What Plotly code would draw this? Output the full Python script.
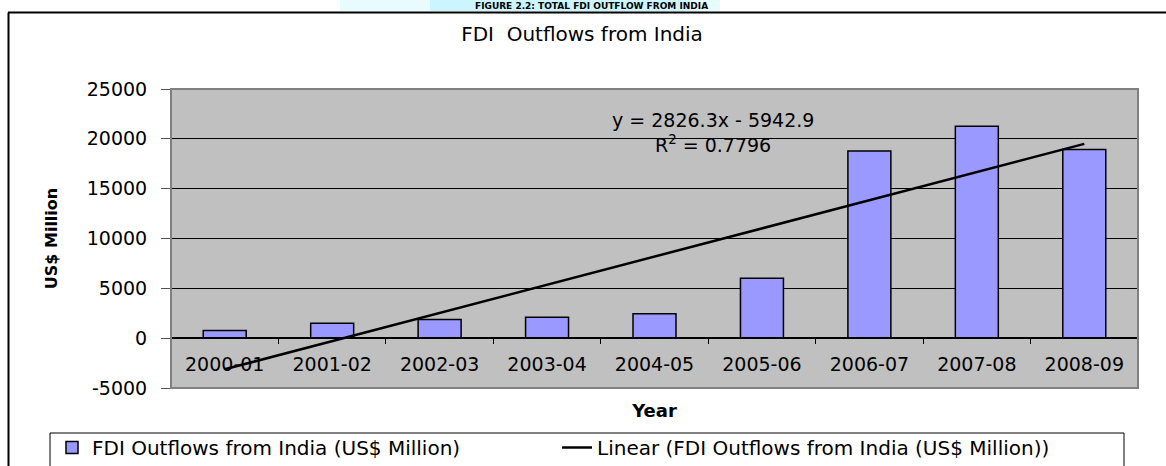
import numpy as np
import plotly.graph_objects as go

# ---- data ----
years = ["2000-01", "2001-02", "2002-03", "2003-04", "2004-05",
         "2005-06", "2006-07", "2007-08", "2008-09"]
fdi_outflows = [780, 1500, 1870, 2100, 2450, 6000, 18770, 21270, 18940]
y_tick_values = [-5000, 0, 5000, 10000, 15000, 20000, 25000]
y_tick_labels = [str(v) for v in y_tick_values]
equation_text = "y = 2826.3x - 5942.9"
r2_text = "R<sup>2</sup> = 0.7796"

# linear trend (Excel style, x = 1..n)
idx = np.arange(1, len(years) + 1)
slope, intercept = np.polyfit(idx, fdi_outflows, 1)
trend = slope * idx + intercept

# ---- geometry helpers ----
W, H = 1166, 466
L, R, T, B = 171, 28, 89, 78
PW, PH = W - L - R, H - T - B


def px(x):
    return (x - L) / PW


def py(y):
    return (H - B - y) / PH


FONT = "DejaVu Sans"
FS = 19

fig = go.Figure()
fig.add_trace(go.Bar(
    x=years, y=fdi_outflows,
    name="FDI Outflows from India (US$ Million)",
    marker=dict(color="#9999FF", line=dict(color="black", width=1.5)),
    width=0.4,
))
fig.add_trace(go.Scatter(
    x=years, y=trend, mode="lines",
    name="Linear (FDI Outflows from India (US$ Million))",
    line=dict(color="black", width=2.5),
))

shapes = [
    # light cyan highlight behind the heading
    dict(type="rect", xref="paper", yref="paper", x0=px(340), x1=px(720),
         y0=py(11), y1=py(-2), fillcolor="#E8FBFF", line=dict(width=0), layer="below"),
    dict(type="rect", xref="paper", yref="paper", x0=px(430), x1=px(690),
         y0=py(11), y1=py(-2), fillcolor="#CCF5FF", line=dict(width=0), layer="below"),
    # chart frame (top and left edges visible)
    dict(type="line", xref="paper", yref="paper", x0=px(8), x1=px(1175),
         y0=py(12.5), y1=py(12.5), line=dict(color="black", width=2)),
    dict(type="line", xref="paper", yref="paper", x0=px(8.5), x1=px(8.5),
         y0=py(12.5), y1=py(475), line=dict(color="black", width=2)),
    # plot area border
    dict(type="rect", xref="paper", yref="paper", x0=0, x1=1, y0=0, y1=1,
         line=dict(color="#808080", width=2)),
    # legend box
    dict(type="rect", xref="paper", yref="paper", x0=px(50), x1=px(1124),
         y0=py(475), y1=py(433), fillcolor="white",
         line=dict(color="black", width=1)),
]

annotations = [
    dict(text="<b>FIGURE 2.2: TOTAL FDI OUTFLOW FROM INDIA</b>", xref="paper", yref="paper",
         x=px(591), y=py(5.5), xanchor="center", yanchor="middle", showarrow=False,
         font=dict(family=FONT, size=9, color="black")),
    dict(text=equation_text, xref="paper", yref="paper", x=px(713), y=py(120),
         xanchor="center", yanchor="middle", showarrow=False,
         font=dict(family=FONT, size=FS, color="black")),
    dict(text=r2_text, xref="paper", yref="paper", x=px(713), y=py(144),
         xanchor="center", yanchor="middle", showarrow=False,
         font=dict(family=FONT, size=FS, color="black")),
]

fig.update_layout(
    width=W, height=H,
    margin=dict(l=L, r=R, t=T, b=B, pad=0, autoexpand=False),
    paper_bgcolor="white",
    plot_bgcolor="#C0C0C0",
    font=dict(family=FONT, size=FS, color="black"),
    title=dict(text="FDI  Outflows from India", x=582 / W, xref="container", xanchor="center",
               y=1 - 34 / H, yref="container", yanchor="middle",
               font=dict(family=FONT, size=20, color="black")),
    showlegend=True,
    legend=dict(orientation="h", x=px(52), y=py(428), xanchor="left", yanchor="top",
                bgcolor="rgba(0,0,0,0)", borderwidth=0,
                entrywidth=460, entrywidthmode="pixels",
                font=dict(family=FONT, size=20, color="black"),
                traceorder="normal"),
    shapes=shapes,
    annotations=annotations,
)

fig.update_yaxes(
    range=[-5000, 25000], tickvals=y_tick_values, ticktext=y_tick_labels,
    showgrid=True, gridcolor="black", gridwidth=1,
    zeroline=False, showline=False, automargin=False,
    ticks="outside", ticklen=9, tickcolor="#555555", tickwidth=1,
    ticklabelstandoff=10,
    tickfont=dict(family=FONT, size=FS, color="black"),
    title=dict(text="<b>US$ Million</b>", standoff=25,
               font=dict(family=FONT, size=16, color="black")),
)

fig.update_xaxes(
    type="category", anchor="free", position=5000 / 30000,
    showline=True, linecolor="black", linewidth=1.5,
    showgrid=False, zeroline=False, automargin=False,
    ticks="outside", tickson="boundaries", ticklen=5, tickcolor="black",
    ticklabelstandoff=9,
    tickfont=dict(family=FONT, size=FS, color="black"),
    title=dict(text="<b>Year</b>", standoff=30,
               font=dict(family=FONT, size=18, color="black")),
)

fig.write_html("out.html")
